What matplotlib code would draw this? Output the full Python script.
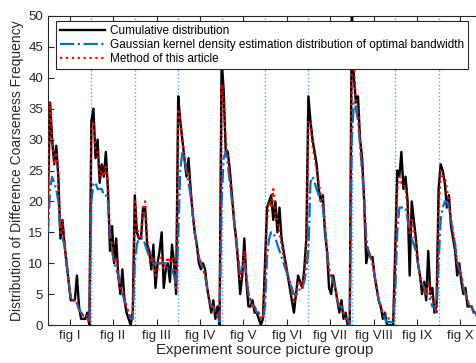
#importing libraries
import numpy as np
import matplotlib.pyplot as plt

plt.rcParams['font.family'] = ['Liberation Sans', 'DejaVu Sans']

#group names on the x axis
group_labels = ['fig I', 'fig II', 'fig III', 'fig IV', 'fig V',
                'fig VI', 'fig VII', 'fig VIII', 'fig IX', 'fig X']

#cumulative distribution, one list per picture group
cumulative = [
    [21, 36, 30, 26, 29, 24, 14, 17, 13, 10, 7, 4, 4, 4, 8, 3, 1, 1, 1, 2, 0],
    [33, 35, 27, 30, 23, 26, 24, 28, 22, 12, 16, 10, 14, 8, 5, 9, 4, 2, 1, 0, 2],
    [21, 15, 14, 14, 19, 19, 13, 12, 9, 13, 6, 10, 12, 15, 6, 9, 10, 7, 13, 10, 5],
    [37, 33, 30, 27, 24, 27, 22, 18, 15, 13, 10, 9, 10, 9, 6, 4, 2, 4, 1, 3, 0],
    [43, 38, 28, 28, 25, 21, 17, 14, 10, 5, 8, 14, 7, 3, 3, 4, 2, 2, 1, 0, 1],
    [10, 19, 20, 21, 17, 20, 15, 19, 14, 12, 10, 8, 6, 4, 2, 5, 8, 7, 6, 9, 14],
    [37, 33, 30, 28, 26, 22, 20, 21, 15, 12, 6, 5, 8, 6, 4, 2, 4, 1, 2, 0, 0],
    [52, 40, 36, 37, 30, 27, 20, 10, 12, 11, 11, 8, 6, 4, 3, 1, 2, 0, 0, 0, 0],
    [12, 25, 24, 28, 22, 24, 20, 8, 20, 17, 14, 10, 8, 5, 7, 4, 12, 5, 6, 2, 3],
    [22, 26, 25, 23, 19, 21, 16, 14, 12, 8, 10, 7, 5, 6, 3, 3, 3, 2, 2, 1, 1],
]

#gaussian kernel density estimation (optimal bandwidth)
gaussian = [
    [15, 22, 24, 23, 22, 20, 15, 14, 13, 10, 7, 4.5, 4, 4, 3.5, 2.5, 2, 1.5, 1.5, 1, 0.5],
    [20, 23, 23, 22, 22, 22, 21, 21, 20, 15, 12, 10, 9, 8, 6, 5, 4, 3, 2, 1, 1],
    [10, 13, 14, 14, 14, 13, 12, 11, 11, 10, 10, 10, 10, 10, 10, 10, 9, 9, 9, 8, 6],
    [14, 25, 28, 27, 25, 23, 21, 18, 15, 13, 11, 10, 9, 8, 6, 4, 3, 3, 2, 1.5, 0.5],
    [20, 27, 28, 26, 23, 20, 17, 14, 11, 8, 9, 10, 8, 5, 4, 3, 3, 2, 2, 1, 1],
    [3, 11, 14, 15, 15, 14, 13, 12, 11, 10, 9, 8, 7, 6, 5, 5, 5, 6, 6, 7, 9],
    [12, 23, 24, 23, 22, 21, 20, 19, 16, 12, 9, 8, 7, 6, 4, 3, 3, 2, 1, 1, 0],
    [30, 36, 35, 33, 29, 25, 20, 14, 12, 11, 10, 8, 6, 4, 3, 2, 1, 0.5, 0.5, 0.5, 0.5],
    [5, 15, 19, 19, 19, 19, 17, 15, 14, 13, 12, 10, 8, 7, 6, 5, 5, 4, 3, 3, 2],
    [10, 17, 19, 20, 20, 19, 17, 15, 13, 10, 9, 8, 6, 5, 4, 3, 3, 2, 2, 1, 1],
]

#method of this article
method = [
    [16, 36, 30, 26, 28, 24, 15, 17, 13, 10, 7, 4.5, 4, 4, 3.5, 2.5, 2, 1.5, 1.5, 1.5, 0.5],
    [32, 33, 28, 28, 24, 25, 24, 26, 22, 14, 13, 10, 11, 8, 6, 6, 4, 3, 2, 1, 1],
    [20, 16, 14, 14, 19, 20, 14, 11, 10, 11, 8, 9, 10, 11, 9, 10, 11, 10, 11, 10, 6],
    [35, 33, 30, 27, 25, 25, 22, 18, 15, 13, 11, 10, 9, 8, 6, 4, 3, 3, 2, 2, 1],
    [39, 36, 30, 27, 24, 21, 17, 14, 11, 7, 9, 12, 8, 5, 4, 3, 3, 2, 2, 1, 1],
    [8, 17, 20, 19, 22, 18, 17, 15, 13, 11, 10, 8, 7, 5, 4, 5, 7, 7, 6, 8, 12],
    [33, 33, 29, 27, 25, 23, 21, 20, 16, 12, 9, 8, 7, 6, 4, 3, 3, 2, 1, 1, 0],
    [46, 42, 36, 34, 30, 25, 20, 13, 12, 11, 10, 8, 6, 4, 3, 2, 2, 1.5, 1, 1, 1],
    [10, 22, 24, 23, 23, 22, 19, 15, 17, 15, 13, 10, 8, 6, 6, 5, 7, 5, 4, 3, 2],
    [18, 25, 24, 24, 22, 20, 17, 15, 13, 10, 9, 8, 6, 5, 4, 3, 3, 2, 2, 1, 1],
]

#x positions: each group spans one unit on the x axis
x = np.concatenate([g + np.arange(len(v)) / len(v) for g, v in enumerate(cumulative)])
y_cum = np.concatenate(cumulative)
y_gau = np.concatenate(gaussian)
y_met = np.concatenate(method)

fig = plt.figure(figsize=(4.76, 3.63), dpi=100)
ax = fig.add_axes([48 / 476, 38 / 363, 434 / 476, 309 / 363])

#group separators
for g in range(1, len(group_labels)):
    ax.axvline(g, color='#4da6e8', linestyle=':', linewidth=1.0, zorder=1)

ax.plot(x, y_cum, color='black', linewidth=1.7, label='Cumulative distribution', zorder=2)
ax.plot(x, y_gau, color='#0072BD', linestyle='-.', linewidth=1.6,
        label='Gaussian kernel density estimation distribution of optimal bandwidth', zorder=3)
ax.plot(x, y_met, color='red', linestyle=':', linewidth=1.6,
        label='Method of this article', zorder=4)

ax.set_xlim(0, 10)
ax.set_ylim(0, 50)
ax.set_yticks(np.arange(0, 51, 5))
ax.set_xticks(np.arange(len(group_labels)) + 0.5)
ax.set_xticklabels(group_labels)
ax.tick_params(direction='in', length=4, labelsize=9.5, top=True, color='#262626',
               labelcolor='#262626')
for s in ax.spines.values():
    s.set_color('#262626')
    s.set_linewidth(0.8)

ax.set_xlabel('Experiment source picture group', fontsize=10.8, color='#262626', labelpad=1)
ax.set_ylabel('Distribution of Difference Coarseness Frequency', fontsize=10,
              color='#262626', labelpad=3)

leg = ax.legend(loc='upper left', bbox_to_anchor=(8 / 434, 1 - 5 / 309), fontsize=8.5,
                fancybox=False, edgecolor='#262626', framealpha=1, handlelength=3.8,
                borderpad=0.35, labelspacing=0.15, handletextpad=0.4, borderaxespad=0)
leg.get_frame().set_linewidth(0.8)

plt.savefig('out.png', dpi=100)
